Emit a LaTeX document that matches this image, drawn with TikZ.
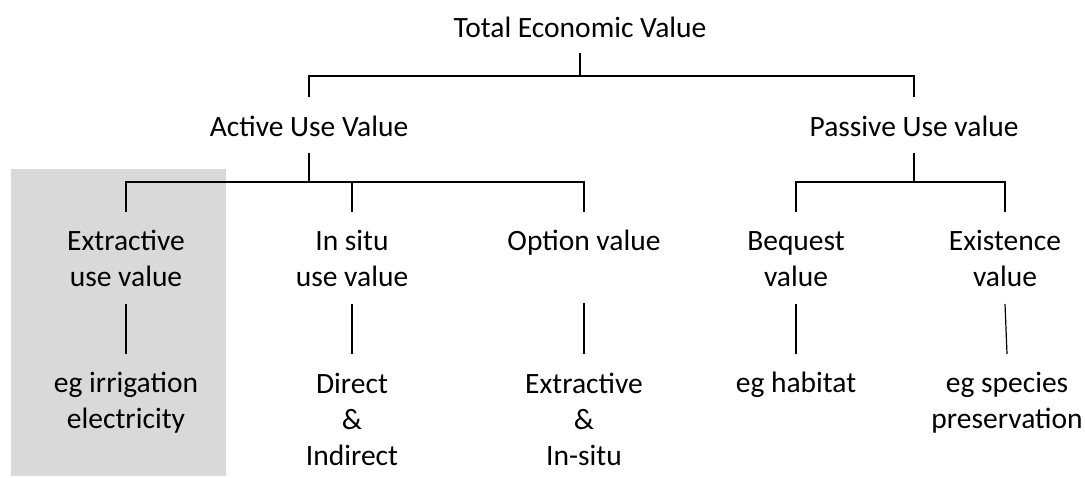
\documentclass[tikz,border=0pt]{standalone}
\usepackage{fontspec}
\setmainfont{Carlito}
\usepackage{tikz}
\usetikzlibrary{calc,positioning}
\definecolor{hilitegray}{RGB}{217,217,217}

\begin{document}
\begin{tikzpicture}[x=0.5pt,y=-0.5pt,
   lbl/.style={inner sep=0pt,align=center,anchor=base,
               font=\fontsize{14.75}{18}\selectfont},
   link/.style={line width=0.6pt}]
  \useasboundingbox (0,0) rectangle (1085,477);
  \fill[hilitegray] (11,169) rectangle (226,476);

  \node[lbl] (tev) at (580,37) {Total Economic Value};
  \node[lbl] (active) at (309,136) {Active Use Value};
  \node[lbl] (passive) at (914,136) {Passive Use value};

  \node[lbl] (extr) at (126,286) {Extractive\\use value};
  \node[lbl] (insitu) at (352,286) {In situ\\use value};
  \node[lbl] (option) at (584,250) {Option value};
  \node[lbl] (bequest) at (796,286) {Bequest\\value};
  \node[lbl] (exist) at (1005,286) {Existence\\value};

  \node[lbl] (irrig) at (126,428) {eg irrigation\\electricity};
  \node[lbl] (direct) at (352,465) {Direct\\\&\\Indirect};
  \node[lbl] (extrin) at (584,465) {Extractive\\\&\\In-situ};
  \node[lbl] (habitat) at (796,392) {eg habitat};
  \node[lbl] (species) at (1007,428) {eg species\\preservation};

  \draw[link] ($(tev.base)+(0,16)$) -- ++(0,23) -| ($(active.base)+(0,-39)$);
  \draw[link] ($(tev.base)+(0,16)$) -- ++(0,23) -| ($(passive.base)+(0,-39)$);
  \foreach \kid/\dy in {extr/74,insitu/74,option/38}
    \draw[link] ($(active.base)+(0,17)$) -- ++(0,29) -| ($(\kid.base)+(0,-\dy)$);
  \foreach \kid/\dy in {bequest/74,exist/74}
    \draw[link] ($(passive.base)+(0,17)$) -- ++(0,29) -| ($(\kid.base)+(0,-\dy)$);
  \draw[link] ($(extr.base)+(0,18)$) -- ($(irrig.base)+(0,-74)$);
  \draw[link] ($(insitu.base)+(0,18)$) -- ($(direct.base)+(0,-111)$);
  \draw[link] ($(option.base)+(0,53)$) -- ($(extrin.base)+(0,-111)$);
  \draw[link] ($(bequest.base)+(0,18)$) -- ($(habitat.base)+(0,-38)$);
  \draw[link] ($(exist.base)+(0,18)$) -- ($(species.base)+(0,-74)$);
\end{tikzpicture}
\end{document}
